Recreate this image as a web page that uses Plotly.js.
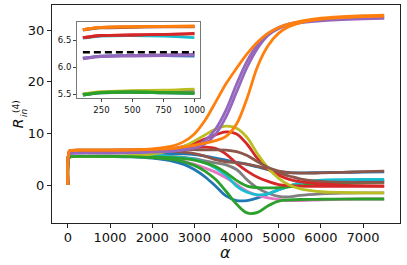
<!DOCTYPE html>
<html>
<head>
<meta charset="utf-8">
<script src="https://cdn.plot.ly/plotly-3.0.1.min.js"></script>
<style>
  html, body { margin: 0; padding: 0; background: #fff; }
  #chart { width: 407px; height: 265px; }
</style>
</head>
<body>
<div id="chart"></div>
<script>
// x values (alpha)
const ALPHA = [0, 40, 100, 250, 500, 750, 1000, 1500, 2000, 2500, 2750, 3000, 3250, 3500, 3750, 4000, 4250, 4500, 4750, 5000, 5250, 5500, 6000, 6500, 7000, 7500];

// series values R_in^(4)
const blueA   = [0, 5.40, 5.49, 5.53, 5.54, 5.53, 5.52, 5.45, 5.20, 4.60, 4.00, 3.00, 1.60, -0.20, -2.10, -3.00, -3.00, -2.50, -1.70, -0.90, -0.20, 0.30, 0.75, 0.85, 0.90, 0.90];
const orangeA = [0, 6.60, 6.70, 6.74, 6.75, 6.76, 6.77, 6.80, 7.00, 7.60, 8.40, 9.90, 12.50, 16.00, 19.60, 22.60, 25.40, 27.70, 29.40, 30.50, 31.20, 31.70, 32.30, 32.60, 32.80, 32.90];
const greenA  = [0, 5.40, 5.50, 5.54, 5.55, 5.54, 5.53, 5.50, 5.30, 4.90, 4.50, 3.80, 2.70, 1.10, -1.20, -3.70, -5.40, -5.30, -4.00, -3.10, -2.90, -2.80, -2.75, -2.72, -2.70, -2.70];
const redA    = [0, 6.45, 6.55, 6.59, 6.60, 6.61, 6.62, 6.65, 6.75, 7.10, 7.50, 8.10, 8.90, 9.70, 10.30, 9.90, 7.90, 5.10, 3.10, 1.90, 1.10, 0.65, 0.20, 0.00, -0.10, -0.15];
const purpleA = [0, 6.05, 6.17, 6.21, 6.22, 6.23, 6.24, 6.30, 6.40, 6.60, 6.90, 7.40, 8.60, 10.80, 14.50, 19.50, 24.00, 27.20, 29.30, 30.50, 31.20, 31.60, 32.00, 32.20, 32.35, 32.45];
const brownA  = [0, 6.60, 6.69, 6.73, 6.74, 6.75, 6.75, 6.80, 6.85, 6.90, 6.90, 6.85, 6.80, 6.80, 6.75, 6.45, 5.70, 4.50, 3.40, 2.70, 2.40, 2.30, 2.35, 2.45, 2.60, 2.70];
const pinkA   = [0, 5.40, 5.50, 5.54, 5.55, 5.55, 5.55, 5.50, 5.40, 5.00, 4.60, 4.00, 3.30, 2.50, 1.40, 0.10, -1.20, -2.00, -2.50, -2.80, -3.00, -3.00, -2.85, -2.75, -2.70, -2.70];
const grayA   = [0, 5.40, 5.50, 5.54, 5.56, 5.57, 5.58, 5.60, 5.60, 5.50, 5.35, 5.10, 4.70, 4.30, 3.90, 3.00, 1.00, -0.60, -1.60, -2.20, -2.30, -2.00, -1.70, -1.55, -1.50, -1.50];
const oliveA  = [0, 5.40, 5.51, 5.55, 5.57, 5.58, 5.60, 5.70, 6.00, 6.80, 7.50, 8.50, 9.70, 10.80, 11.40, 11.00, 9.20, 6.00, 3.30, 1.30, 0.00, -0.70, -1.30, -1.45, -1.50, -1.50];
const cyanA   = [0, 6.45, 6.54, 6.58, 6.59, 6.58, 6.55, 6.30, 5.85, 5.45, 5.25, 5.00, 4.30, 3.30, 1.90, -0.20, -1.40, -1.90, -1.70, -0.90, -0.20, 0.40, 0.95, 1.05, 1.10, 1.10];
const blueB   = [0, 6.05, 6.17, 6.21, 6.22, 6.22, 6.21, 6.20, 6.15, 6.10, 6.05, 5.90, 5.60, 5.20, 4.80, 4.40, 4.00, 3.50, 3.00, 2.60, 2.40, 2.35, 2.40, 2.45, 2.50, 2.55];
const orangeB = [0, 6.60, 6.70, 6.74, 6.75, 6.76, 6.76, 6.80, 6.90, 7.10, 7.40, 7.70, 8.10, 8.60, 9.40, 11.80, 16.80, 23.00, 27.00, 29.40, 30.70, 31.40, 32.10, 32.40, 32.60, 32.70];
const greenB  = [0, 5.40, 5.49, 5.53, 5.54, 5.53, 5.52, 5.50, 5.45, 5.30, 5.10, 4.80, 4.30, 3.60, 2.40, 0.90, -0.20, -0.50, -0.55, -0.50, -0.35, -0.15, 0.15, 0.35, 0.45, 0.50];
const redB    = [0, 6.45, 6.55, 6.59, 6.60, 6.61, 6.63, 6.65, 6.75, 6.95, 7.10, 7.30, 7.35, 7.10, 6.00, 4.20, 2.70, 1.50, 0.70, 0.10, -0.10, -0.20, -0.25, -0.25, -0.25, -0.25];
const purpleB = [0, 6.05, 6.16, 6.20, 6.21, 6.22, 6.23, 6.30, 6.40, 6.55, 6.80, 7.20, 8.00, 9.80, 13.20, 18.00, 22.80, 26.50, 29.00, 30.30, 31.00, 31.40, 31.80, 32.00, 32.15, 32.25];
const brownB  = [0, 6.60, 6.70, 6.74, 6.75, 6.76, 6.76, 6.75, 6.70, 6.50, 6.35, 6.10, 5.60, 4.90, 4.50, 4.30, 4.05, 3.60, 3.00, 2.30, 1.75, 1.20, 0.70, 0.55, 0.50, 0.50];

// dashed reference level in the inset
const REF_X = [100, 1000];
const REF_Y = [6.28, 6.28];

// tick labels
const X_TICKS = [0, 1000, 2000, 3000, 4000, 5000, 6000, 7000];
const Y_TICKS = [0, 10, 20, 30];
const IX_TICKS = [250, 500, 750, 1000];
const IY_TICKS = [5.5, 6.0, 6.5];
const IY_LABELS = ['5.5', '6.0', '6.5'];

// drawing order (later = on top)
const SERIES = [
  [blueA, '#1f77b4'], [blueB, '#1f77b4'], [pinkA, '#e377c2'], [grayA, '#7f7f7f'],
  [cyanA, '#17becf'], [greenB, '#2ca02c'], [redB, '#d62728'], [brownB, '#8c564b'],
  [redA, '#d62728'], [oliveA, '#bcbd22'], [brownA, '#8c564b'], [greenA, '#2ca02c'],
  [purpleA, '#9467bd'], [purpleB, '#9467bd'], [orangeB, '#ff7f0e'], [orangeA, '#ff7f0e']
];

const INSET_FROM = 2, INSET_TO = 7; // alpha = 100 .. 1000

const traces = [];
SERIES.forEach(([ys, c]) => {
  traces.push({
    type: 'scatter', mode: 'lines', x: ALPHA, y: ys, xaxis: 'x', yaxis: 'y',
    line: {color: c, width: 2.8, shape: 'spline', smoothing: 1}, hoverinfo: 'skip'
  });
});
SERIES.forEach(([ys, c]) => {
  traces.push({
    type: 'scatter', mode: 'lines', x: ALPHA.slice(INSET_FROM, INSET_TO), y: ys.slice(INSET_FROM, INSET_TO),
    xaxis: 'x2', yaxis: 'y2',
    line: {color: c, width: 2.8, shape: 'spline', smoothing: 1}, hoverinfo: 'skip'
  });
});
traces.push({
  type: 'scatter', mode: 'lines', x: REF_X, y: REF_Y, xaxis: 'x2', yaxis: 'y2',
  line: {color: '#000', width: 2.6, dash: '7px,4px'}, hoverinfo: 'skip'
});

const L = 52, R = 7, T = 5, B = 42, W = 407, H = 265;
const PW = W - L - R, PH = H - T - B;
const px = v => (v - L) / PW;
const py = v => (H - B - v) / PH;

const font = {family: 'DejaVu Sans, sans-serif', color: '#111'};
const axisCommon = {
  showgrid: false, zeroline: false, showline: true, mirror: true,
  ticks: 'outside', tickwidth: 1, fixedrange: true
};

const layout = {
  width: W, height: H,
  margin: {l: L, r: R, t: T, b: B, pad: 0},
  paper_bgcolor: '#fff', plot_bgcolor: '#fff',
  showlegend: false,
  font: font,
  xaxis: Object.assign({}, axisCommon, {
    domain: [0, 1], anchor: 'y', range: [-375, 7875], tickvals: X_TICKS,
    ticklen: 4, tickcolor: '#222', linecolor: '#222', linewidth: 1,
    ticklabelstandoff: -2,
    tickfont: {family: font.family, size: 13, color: '#111'}
  }),
  yaxis: Object.assign({}, axisCommon, {
    domain: [0, 1], anchor: 'x', range: [-7.35, 34.85], tickvals: Y_TICKS,
    ticklen: 4, tickcolor: '#222', linecolor: '#222', linewidth: 1,
    tickfont: {family: font.family, size: 13, color: '#111'}
  }),
  xaxis2: Object.assign({}, axisCommon, {
    domain: [px(77.3), px(200)], anchor: 'y2', range: [55, 1045], tickvals: IX_TICKS,
    ticklen: 3, tickcolor: '#444', linecolor: '#777', linewidth: 1.3,
    ticklabelstandoff: 1,
    tickfont: {family: font.family, size: 8.5, color: '#111'}
  }),
  yaxis2: Object.assign({}, axisCommon, {
    domain: [py(97.7), py(22)], anchor: 'x2', range: [5.44, 6.84],
    tickvals: IY_TICKS, ticktext: IY_LABELS,
    ticklen: 3, tickcolor: '#444', linecolor: '#777', linewidth: 1.3,
    tickfont: {family: font.family, size: 8.5, color: '#111'}
  }),
  annotations: [
    {text: '<i>α</i>', xref: 'paper', yref: 'paper', x: px(225.7), y: py(252.2),
     xanchor: 'center', yanchor: 'middle', showarrow: false,
     font: {family: font.family, size: 16, color: '#111'}},
    {text: '<i>R</i>', xref: 'paper', yref: 'paper', x: px(18.3), y: py(123),
     xanchor: 'center', yanchor: 'middle', showarrow: false, textangle: -90,
     font: {family: font.family, size: 14, color: '#111'}},
    {text: '<i>in</i>', xref: 'paper', yref: 'paper', x: px(23.5), y: py(112.5),
     xanchor: 'center', yanchor: 'middle', showarrow: false, textangle: -90,
     font: {family: font.family, size: 9, color: '#111'}},
    {text: '(4)', xref: 'paper', yref: 'paper', x: px(16), y: py(107),
     xanchor: 'center', yanchor: 'middle', showarrow: false, textangle: -90,
     font: {family: font.family, size: 9, color: '#111'}}
  ]
};

Plotly.newPlot('chart', traces, layout, {staticPlot: true, displayModeBar: false});
</script>
</body>
</html>
